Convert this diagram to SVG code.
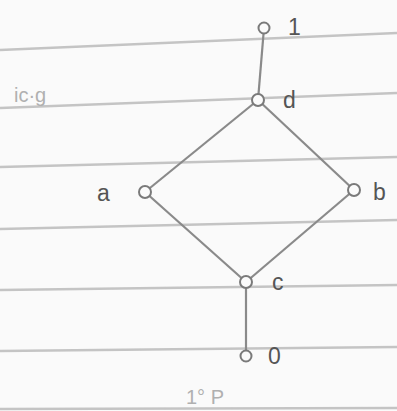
<svg xmlns="http://www.w3.org/2000/svg" width="397" height="411" viewBox="0 0 397 411">
<style>
.rule{stroke:#c4c4c4;stroke-width:2.5;fill:none}
.edge{stroke:#8a8a8a;stroke-width:2.2;fill:none}
.node{fill:#fbfbfb;stroke:#7a7a7a;stroke-width:2}
.lbl{font-family:"Liberation Sans",Arial,sans-serif;font-size:23px;fill:#555}
.faint{font-family:"Liberation Sans",Arial,sans-serif;font-size:20px;fill:#b0b0b0}
</style>
<rect width="397" height="411" fill="#fafafa"/>
<g id="rules">
<line class="rule" x1="0" y1="50" x2="397" y2="33"/>
<line class="rule" x1="0" y1="108" x2="397" y2="93"/>
<line class="rule" x1="0" y1="167" x2="397" y2="157"/>
<line class="rule" x1="0" y1="229" x2="397" y2="220"/>
<line class="rule" x1="0" y1="290" x2="397" y2="285"/>
<line class="rule" x1="0" y1="351" x2="397" y2="347"/>
<line class="rule" x1="0" y1="409" x2="397" y2="408"/>
</g>
<text class="faint" x="14" y="102">ic·g</text>
<text class="faint" x="186" y="404">1° P</text>
<g id="connectors">
<line class="edge" x1="264" y1="28" x2="258" y2="100"/>
<line class="edge" x1="258" y1="100" x2="145" y2="192"/>
<line class="edge" x1="258" y1="100" x2="354" y2="190"/>
<line class="edge" x1="145" y1="192" x2="246" y2="282"/>
<line class="edge" x1="354" y1="190" x2="246" y2="282"/>
<line class="edge" x1="246" y1="282" x2="246" y2="356"/>
</g>
<g id="node-1"><circle class="node" cx="264" cy="28" r="5.5"/><text class="lbl" x="288" y="35">1</text></g>
<g id="node-d"><circle class="node" cx="258" cy="100" r="6"/><text class="lbl" x="283" y="108">d</text></g>
<g id="node-a"><circle class="node" cx="145" cy="192" r="6"/><text class="lbl" x="97" y="201">a</text></g>
<g id="node-b"><circle class="node" cx="354" cy="190" r="6"/><text class="lbl" x="373" y="200">b</text></g>
<g id="node-c"><circle class="node" cx="246" cy="282" r="6"/><text class="lbl" x="272" y="290">c</text></g>
<g id="node-0"><circle class="node" cx="246" cy="356" r="5.5"/><text class="lbl" x="268" y="364">0</text></g>
</svg>
